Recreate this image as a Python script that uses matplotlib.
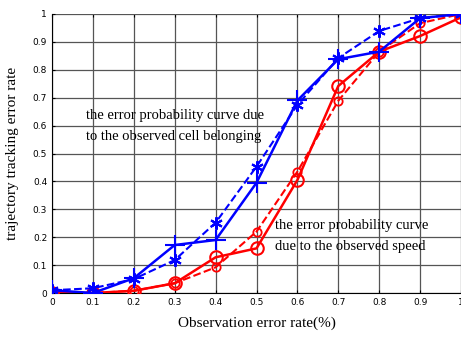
import matplotlib
matplotlib.use("Agg")
import matplotlib.pyplot as plt

# observation error rate
x = [0, 0.1, 0.2, 0.3, 0.4, 0.5, 0.6, 0.7, 0.8, 0.9, 1.0]

# cell belonging curves (blue)
cell_solid = [0.01, 0.0, 0.053, 0.172, 0.19, 0.395, 0.69, 0.838, 0.865, 0.985, 1.0]
cell_dash = [0.01, 0.017, 0.05, 0.118, 0.252, 0.453, 0.674, 0.842, 0.939, 0.985, 1.0]

# speed curves (red)
speed_solid = [0.0, 0.0, 0.008, 0.035, 0.128, 0.16, 0.405, 0.742, 0.865, 0.921, 0.988]
speed_dash = [0.0, 0.0, 0.008, 0.035, 0.092, 0.22, 0.435, 0.689, 0.865, 0.967, 1.0]

xticks = [0, 0.1, 0.2, 0.3, 0.4, 0.5, 0.6, 0.7, 0.8, 0.9, 1]
xticklabels = ["0", "0.1", "0.2", "0.3", "0.4", "0.5", "0.6", "0.7", "0.8", "0.9", "1"]
yticks = [0, 0.1, 0.2, 0.3, 0.4, 0.5, 0.6, 0.7, 0.8, 0.9, 1]
yticklabels = ["0", "0.1", "0.2", "0.3", "0.4", "0.5", "0.6", "0.7", "0.8", "0.9", "1"]

serif = "Liberation Serif"

fig = plt.figure(figsize=(4.61, 3.38), dpi=100)
ax = fig.add_axes([0.1128, 0.1331, 0.8872, 0.8255])

asterisk = (6, 2, 0)
ax.plot(x, speed_dash, "--", color="red", lw=1.5, marker="o", ms=6, mfc="none", mew=1.3, zorder=3)
ax.plot(x, speed_solid, "-", color="red", lw=1.8, marker="o", ms=9, mfc="none", mew=1.5, zorder=3)
ax.plot(x, cell_dash, "--", color="blue", lw=1.5, marker=asterisk, ms=9, mew=1.5, zorder=4)
ax.plot(x, cell_solid, "-", color="blue", lw=1.8, marker="+", ms=14, mew=1.5, zorder=4)

ax.set_xlim(0, 1)
ax.set_ylim(0, 1)
ax.set_xticks(xticks)
ax.set_xticklabels(xticklabels)
ax.set_yticks(yticks)
ax.set_yticklabels(yticklabels)
ax.tick_params(labelsize=6.5, direction="in", length=2.5, top=True, right=False)
ax.grid(True, color="#555555", lw=0.9)
ax.set_axisbelow(True)
for s in ["top", "right"]:
    ax.spines[s].set_visible(False)

ax.set_xlabel("Observation error rate(%)", fontfamily=serif, fontsize=11, labelpad=7)
ax.set_ylabel("trajectory tracking error rate", fontfamily=serif, fontsize=11, labelpad=10)

ax.text(0.083, 0.599, "the error probability curve due\nto the observed cell belonging",
        fontfamily=serif, fontsize=10.5, linespacing=1.75, va="center")
ax.text(0.546, 0.2035, "the error probability curve\ndue to the observed speed",
        fontfamily=serif, fontsize=10.5, linespacing=1.75, va="center")

fig.savefig("out.png", dpi=100)
